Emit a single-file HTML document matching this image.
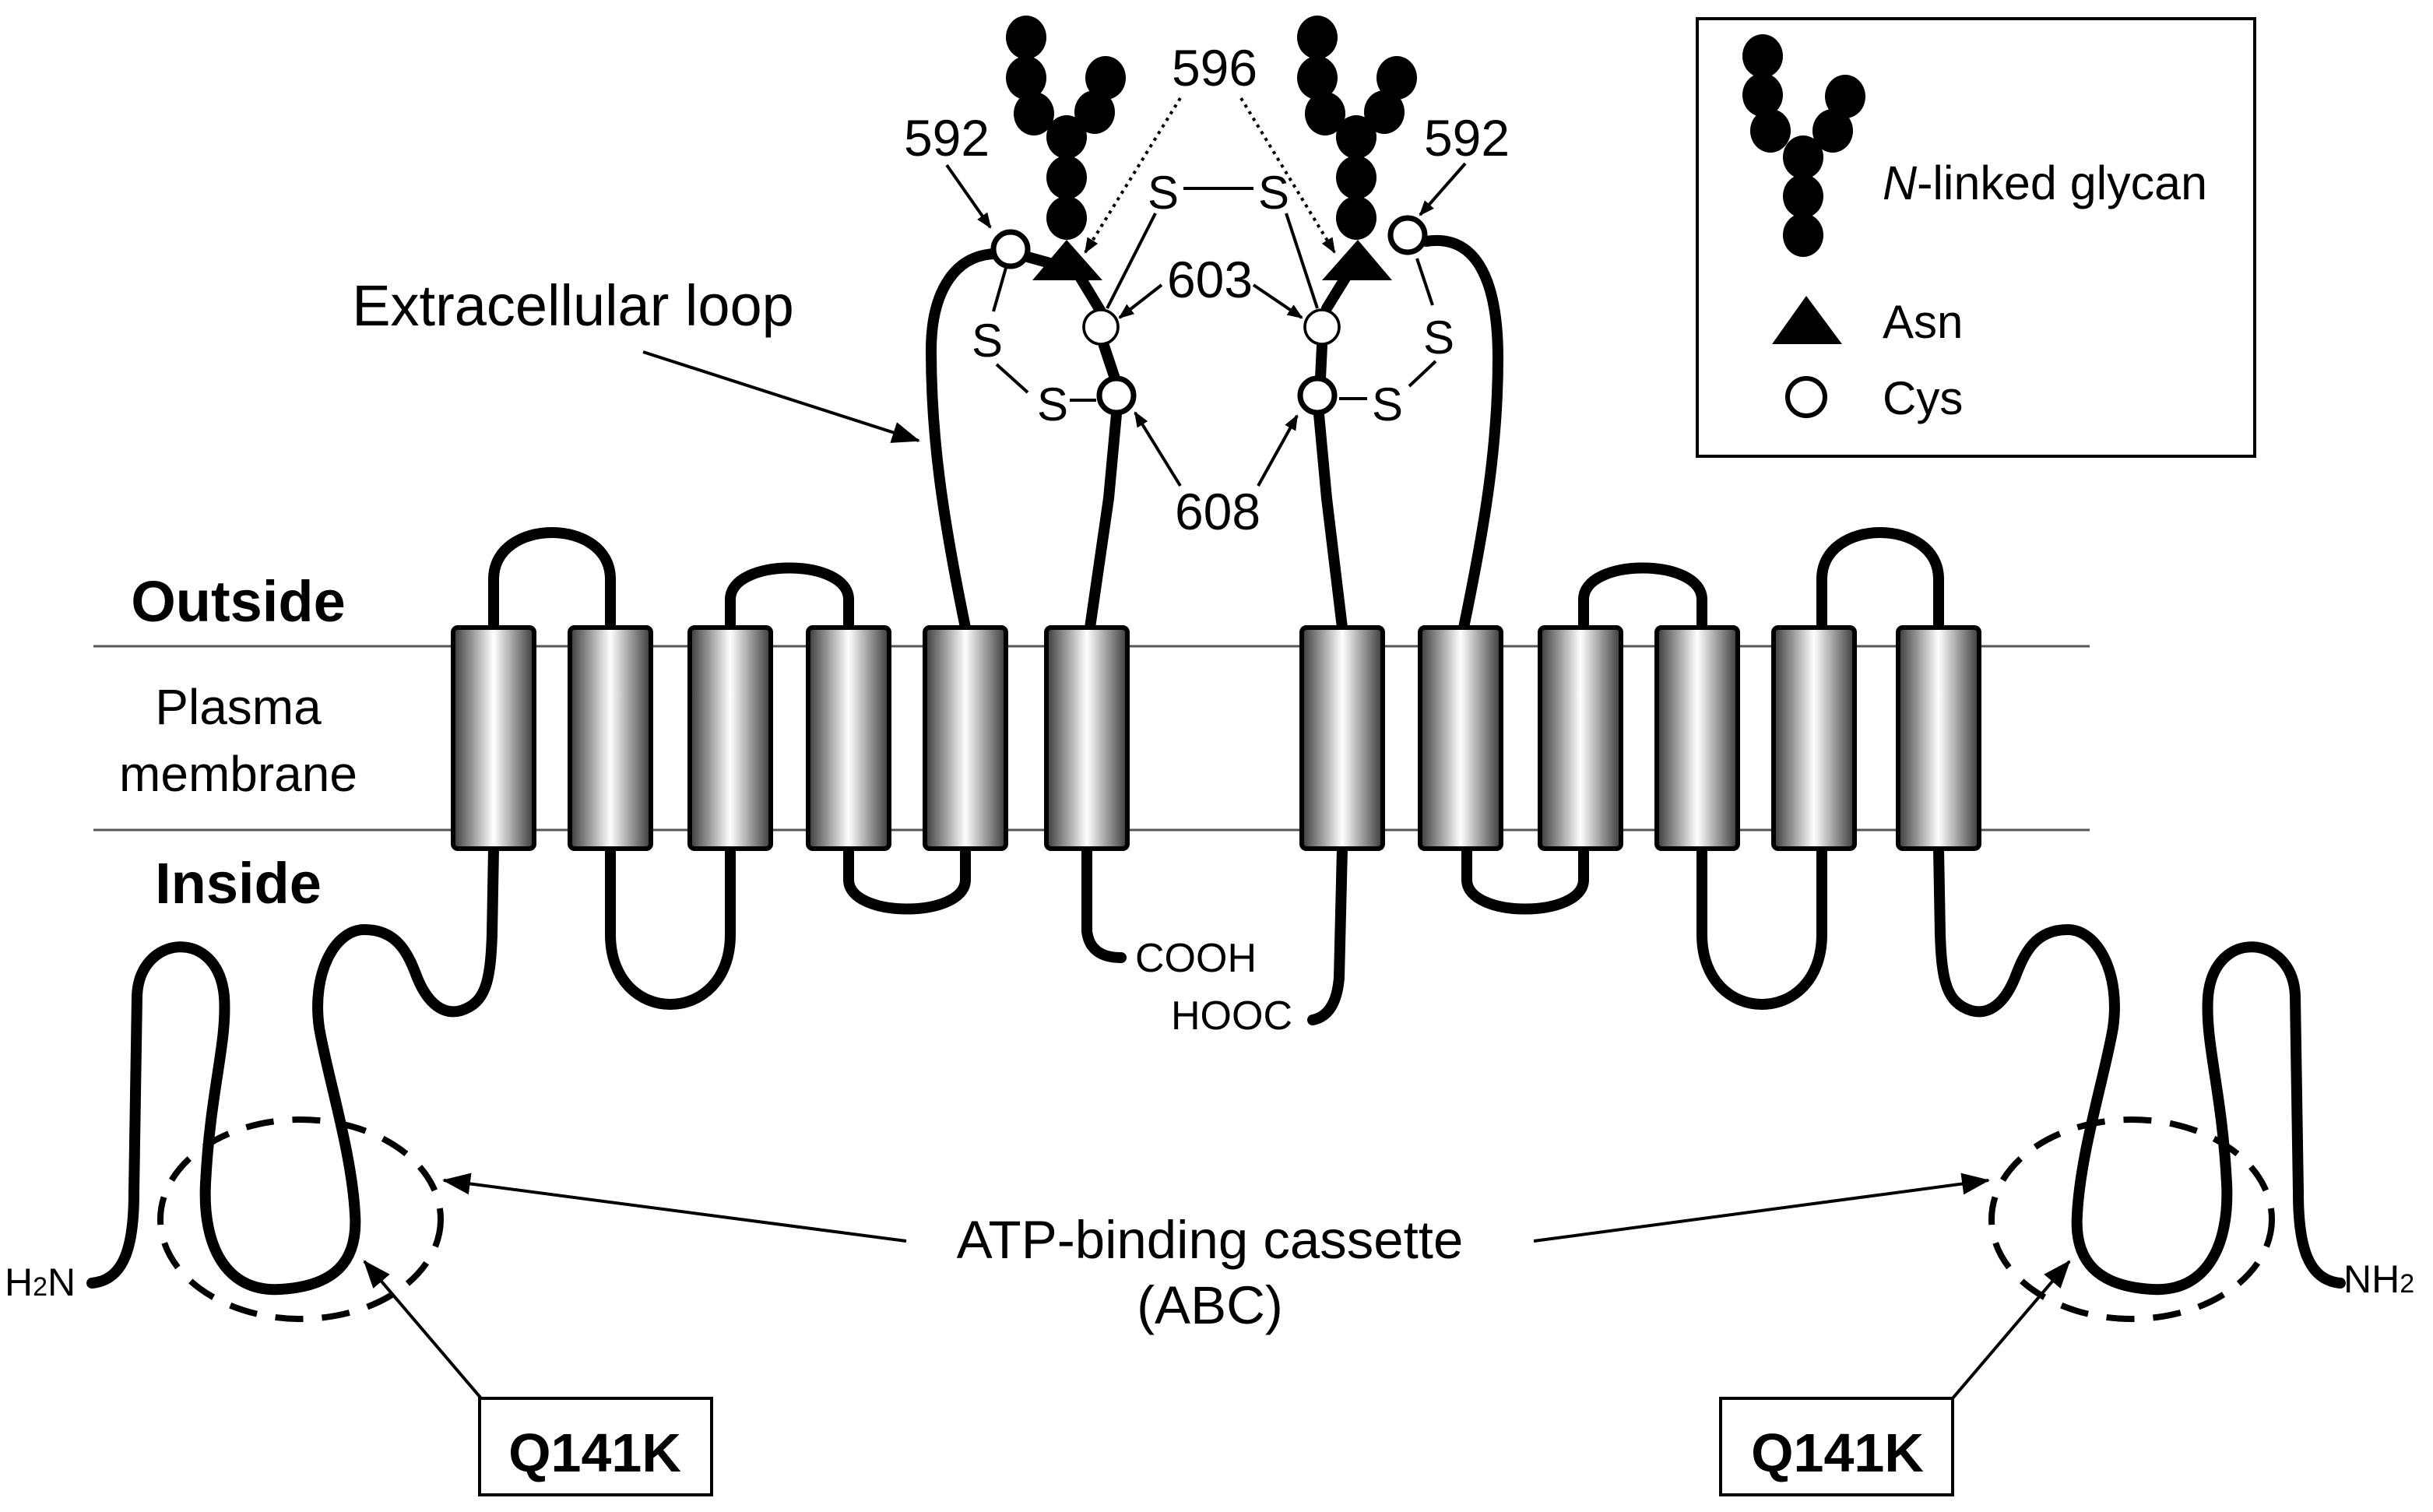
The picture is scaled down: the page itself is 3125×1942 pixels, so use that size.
<!DOCTYPE html>
<html><head><meta charset="utf-8"><style>
html,body{margin:0;padding:0;background:#fff;}
svg{display:block;}
text{font-family:"Liberation Sans",Arial,sans-serif;fill:#000;}
</style></head><body>
<svg width="3125" height="1942" viewBox="0 0 1562.5 971" xmlns="http://www.w3.org/2000/svg">
<defs>
<linearGradient id="g" x1="0" x2="1" y1="0" y2="0">
<stop offset="0" stop-color="#3a3a3a"/><stop offset="0.5" stop-color="#ffffff"/><stop offset="1" stop-color="#3a3a3a"/>
</linearGradient>
<marker id="ah" markerWidth="10" markerHeight="8" refX="9" refY="4" orient="auto" markerUnits="userSpaceOnUse">
<path d="M0,0 L10,4 L0,8 Z" fill="#000"/></marker>
<marker id="ahb" markerWidth="18" markerHeight="14" refX="17" refY="7" orient="auto" markerUnits="userSpaceOnUse">
<path d="M0,0 L18,7 L0,14 Z" fill="#000"/></marker>
</defs>

<line x1="60" y1="415" x2="1342" y2="415" stroke="#555" stroke-width="1.5"/>
<line x1="60" y1="533" x2="1342" y2="533" stroke="#555" stroke-width="1.5"/>

<text x="153" y="399" font-size="37" font-weight="bold" text-anchor="middle">Outside</text>
<text x="153" y="465" font-size="32" text-anchor="middle">Plasma</text>
<text x="153" y="508" font-size="32" text-anchor="middle">membrane</text>
<text x="153" y="580" font-size="37" font-weight="bold" text-anchor="middle">Inside</text>

<g fill="none" stroke="#000" stroke-width="7" stroke-linecap="round" stroke-linejoin="round">
<path d="M59,824 C80,822 86,800 86,766 L88,640 C89,600 140,595 144,640 C146,670 135,700 132,760 C130,800 145,830 180,828 C215,826 230,810 228,780 C226,740 210,690 205,660 C200,625 215,597 234,597 C255,597 262,612 268,628 C275,645 285,652 296,649 C312,644 315,630 316,600 L317,545"/>
<path d="M392,545 L392,600 C392,660 469,660 469,600 L469,545"/>
<path d="M545,545 L545,565 C545,590 620,590 620,565 L620,545"/>
<path d="M698,545 L698,598 Q700,615 720,615"/>
<path d="M317,403 L317,372 C317,332 392,332 392,372 L392,403"/>
<path d="M469,403 L469,385 C469,358 545,358 545,385 L545,403"/>
<g transform="translate(1562,0) scale(-1,1)">
<path d="M59,824 C80,822 86,800 86,766 L88,640 C89,600 140,595 144,640 C146,670 135,700 132,760 C130,800 145,830 180,828 C215,826 230,810 228,780 C226,740 210,690 205,660 C200,625 215,597 234,597 C255,597 262,612 268,628 C275,645 285,652 296,649 C312,644 315,630 316,600 L317,545"/>
<path d="M392,545 L392,600 C392,660 469,660 469,600 L469,545"/>
<path d="M545,545 L545,565 C545,590 620,590 620,565 L620,545"/>
<path d="M317,403 L317,372 C317,332 392,332 392,372 L392,403"/>
<path d="M469,403 L469,385 C469,358 545,358 545,385 L545,403"/>
</g>
<path d="M862,545 L860,628 Q858,652 843,655"/>
<path d="M620,403 C605,330 598,280 598,225 C598,185 615,163 640,163"/>
<path d="M660,165 L685,172"/>
<path d="M690,172 L707,200"/>
<path d="M709,222 L716,243"/>
<path d="M717,266 L712,320 L700,403"/>
<path d="M862,403 L852,320 L847,266"/>
<path d="M848,243 L849,222"/>
<path d="M852,198 L868,172"/>
<path d="M916,155 C948,150 962,180 962,230 C962,290 952,345 940,403"/>
</g>

<g stroke="#000" stroke-width="3" fill="url(#g)">
<rect x="291" y="403" width="52" height="142" rx="3"/>
<rect x="366" y="403" width="52" height="142" rx="3"/>
<rect x="443" y="403" width="52" height="142" rx="3"/>
<rect x="519" y="403" width="52" height="142" rx="3"/>
<rect x="594" y="403" width="52" height="142" rx="3"/>
<rect x="672" y="403" width="52" height="142" rx="3"/>
<rect x="836" y="403" width="52" height="142" rx="3"/>
<rect x="912" y="403" width="52" height="142" rx="3"/>
<rect x="989" y="403" width="52" height="142" rx="3"/>
<rect x="1064" y="403" width="52" height="142" rx="3"/>
<rect x="1139" y="403" width="52" height="142" rx="3"/>
<rect x="1219" y="403" width="52" height="142" rx="3"/>
</g>

<text x="729" y="624" font-size="26" fill="#222">COOH</text>
<text x="752" y="661" font-size="26" fill="#222">HOOC</text>
<text x="3" y="832" font-size="25" fill="#333">H<tspan font-size="17">2</tspan>N</text>
<text x="1505" y="830" font-size="25" fill="#333">NH<tspan font-size="17">2</tspan></text>

<g fill="#000">
<ellipse cx="659" cy="24" rx="13" ry="14"/><ellipse cx="659" cy="50" rx="13" ry="14"/><ellipse cx="664" cy="73" rx="13" ry="14"/>
<ellipse cx="710" cy="50" rx="13" ry="14"/><ellipse cx="703" cy="72" rx="13" ry="14"/>
<ellipse cx="685" cy="88" rx="13" ry="14"/><ellipse cx="685" cy="114" rx="13" ry="14"/><ellipse cx="685" cy="140" rx="13" ry="14"/>
<path d="M663,180 L708,180 L685,154 Z"/>
<ellipse cx="846" cy="24" rx="13" ry="14"/><ellipse cx="846" cy="50" rx="13" ry="14"/><ellipse cx="851" cy="73" rx="13" ry="14"/>
<ellipse cx="897" cy="50" rx="13" ry="14"/><ellipse cx="889" cy="72" rx="13" ry="14"/>
<ellipse cx="871" cy="88" rx="13" ry="14"/><ellipse cx="871" cy="114" rx="13" ry="14"/><ellipse cx="871" cy="140" rx="13" ry="14"/>
<path d="M849,180 L894,180 L872,154 Z"/>
</g>

<g stroke="#000" stroke-width="2" fill="none">
<line x1="646" y1="172" x2="638" y2="200"/>
<line x1="640" y1="234" x2="660" y2="252"/>
<line x1="687" y1="257" x2="704" y2="257"/>
<line x1="760" y1="121" x2="805" y2="121"/>
<line x1="742" y1="137" x2="711" y2="198"/>
<line x1="826" y1="137" x2="846" y2="198"/>
<line x1="910" y1="166" x2="920" y2="196"/>
<line x1="922" y1="232" x2="905" y2="248"/>
<line x1="860" y1="256" x2="878" y2="256"/>
</g>
<g font-size="30" text-anchor="middle">
<text x="634" y="229">S</text><text x="676" y="270">S</text>
<text x="747" y="134">S</text><text x="818" y="134">S</text>
<text x="924" y="227">S</text><text x="891" y="270">S</text>
</g>

<g fill="#fff" stroke="#000">
<circle cx="649" cy="160" r="11" stroke-width="3.5"/>
<circle cx="707" cy="210" r="11" stroke-width="1.8"/>
<circle cx="717" cy="254" r="11" stroke-width="3.5"/>
<circle cx="904" cy="151" r="11" stroke-width="3.5"/>
<circle cx="849" cy="210" r="11" stroke-width="1.8"/>
<circle cx="846" cy="254" r="11" stroke-width="3.5"/>
</g>

<g font-size="33" text-anchor="middle">
<text x="780" y="55">596</text>
<text x="608" y="100">592</text>
<text x="942" y="100">592</text>
<text x="777" y="191">603</text>
<text x="782" y="340">608</text>
</g>
<g stroke="#000" stroke-width="2" fill="none" marker-end="url(#ah)">
<line x1="758" y1="63" x2="697" y2="162" stroke-dasharray="2,3"/>
<line x1="797" y1="63" x2="857" y2="162" stroke-dasharray="2,3"/>
<line x1="608" y1="106" x2="636" y2="146"/>
<line x1="941" y1="105" x2="912" y2="138"/>
<line x1="746" y1="183" x2="719" y2="204"/>
<line x1="805" y1="183" x2="836" y2="204"/>
<line x1="758" y1="312" x2="729" y2="265"/>
<line x1="808" y1="312" x2="833" y2="267"/>
</g>

<text x="368" y="209" font-size="37" text-anchor="middle">Extracellular loop</text>
<line x1="413" y1="226" x2="590" y2="283" stroke="#000" stroke-width="2" marker-end="url(#ahb)"/>

<ellipse cx="193" cy="783" rx="90" ry="64" fill="none" stroke="#000" stroke-width="4" stroke-dasharray="18,12"/>
<ellipse cx="1369" cy="783" rx="90" ry="64" fill="none" stroke="#000" stroke-width="4" stroke-dasharray="18,12"/>
<text x="777" y="808" font-size="34.5" text-anchor="middle">ATP-binding cassette</text>
<text x="777" y="850" font-size="34.5" text-anchor="middle">(ABC)</text>
<line x1="582" y1="797" x2="285" y2="758" stroke="#000" stroke-width="2" marker-end="url(#ahb)"/>
<line x1="985" y1="797" x2="1277" y2="758" stroke="#000" stroke-width="2" marker-end="url(#ahb)"/>

<rect x="308" y="898" width="149" height="62" fill="#fff" stroke="#000" stroke-width="2"/>
<text x="382" y="945" font-size="35" font-weight="bold" text-anchor="middle">Q141K</text>
<rect x="1105" y="898" width="149" height="62" fill="#fff" stroke="#000" stroke-width="2"/>
<text x="1180" y="945" font-size="35" font-weight="bold" text-anchor="middle">Q141K</text>
<line x1="309" y1="898" x2="234" y2="810" stroke="#000" stroke-width="2" marker-end="url(#ahb)"/>
<line x1="1254" y1="898" x2="1329" y2="810" stroke="#000" stroke-width="2" marker-end="url(#ahb)"/>

<rect x="1090" y="12" width="358" height="281" fill="none" stroke="#000" stroke-width="2"/>
<g fill="#000">
<ellipse cx="1132" cy="36" rx="13" ry="14"/><ellipse cx="1132" cy="61" rx="13" ry="14"/><ellipse cx="1137" cy="84" rx="13" ry="14"/>
<ellipse cx="1185" cy="62" rx="13" ry="14"/><ellipse cx="1177" cy="84" rx="13" ry="14"/>
<ellipse cx="1158" cy="101" rx="13" ry="14"/><ellipse cx="1158" cy="126" rx="13" ry="14"/><ellipse cx="1158" cy="151" rx="13" ry="14"/>
<path d="M1138,221 L1183,221 L1160,190 Z"/>
</g>
<circle cx="1160" cy="255" r="12" fill="#fff" stroke="#000" stroke-width="3"/>
<text x="1209" y="128" font-size="30.5"><tspan font-style="italic">N</tspan>-linked glycan</text>
<text x="1209" y="217" font-size="30">Asn</text>
<text x="1209" y="266" font-size="30">Cys</text>
</svg>
</body></html>
